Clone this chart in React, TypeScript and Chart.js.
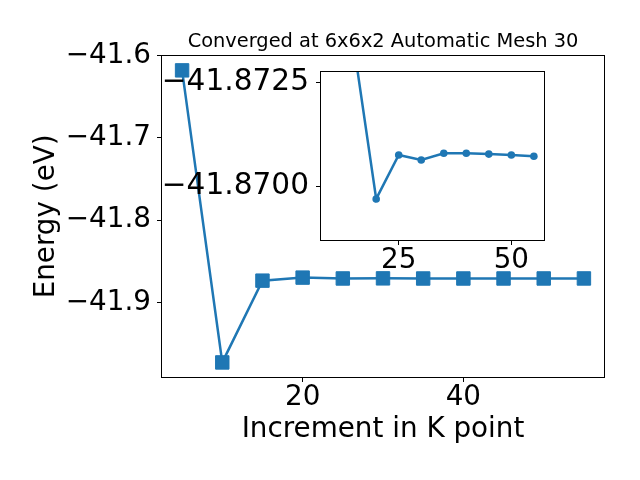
import React, { useEffect, useRef } from "react";
import { Chart, registerables } from "chart.js";

Chart.register(...registerables);

// ---- data ----
const kPoints = [5, 10, 15, 20, 25, 30, 35, 40, 45, 50, 55];
const energies = [
  -41.6183, -41.9726, -41.8734, -41.86971, -41.87076, -41.87064, -41.8708,
  -41.8708, -41.87078, -41.87076, -41.87073,
];
const insetKPoints = [10, 15, 20, 25, 30, 35, 40, 45, 50, 55];
const insetEnergies = [
  -41.9726, -41.8734, -41.86971, -41.87076, -41.87064, -41.8708, -41.8708,
  -41.87078, -41.87076, -41.87073,
];
const mainXTicks = [20, 40];
const mainYTicks = [-41.9, -41.8, -41.7, -41.6];
const insetXTicks = [25, 50];
const insetYTicks = [-41.8725, -41.87];
const titleText = "Converged at 6x6x2 Automatic Mesh 30";
const xLabel = "Increment in K point";
const yLabel = "Energy (eV)";

const BLUE = "#1f77b4";
const FONT = "DejaVu Sans";

const minus = (s: string) => s.replace("-", "\u2212");

function framePlugin(fillWhite: boolean) {
  return {
    id: "frame",
    beforeDraw(chart: any) {
      if (!fillWhite) return;
      const { ctx, chartArea: a } = chart;
      ctx.save();
      ctx.fillStyle = "#ffffff";
      ctx.fillRect(a.left, a.top, a.right - a.left, a.bottom - a.top);
      ctx.restore();
    },
    afterDraw(chart: any) {
      const { ctx, chartArea: a } = chart;
      ctx.save();
      ctx.strokeStyle = "#000000";
      ctx.lineWidth = 1;
      ctx.strokeRect(
        Math.round(a.left) - 0.5,
        Math.round(a.top) - 0.5,
        Math.round(a.right) - Math.round(a.left) + 1,
        Math.round(a.bottom) - Math.round(a.top) + 1
      );
      ctx.restore();
    },
  };
}

const tickGrid = {
  drawOnChartArea: false,
  drawTicks: true,
  tickLength: 5,
  color: "#000000",
  lineWidth: 1,
};

export default function App() {
  const mainRef = useRef<HTMLCanvasElement>(null);
  const insetRef = useRef<HTMLCanvasElement>(null);

  useEffect(() => {
    const tickFont = { family: FONT, size: 27.8, lineHeight: 1.1 };
    const insetYFont = { family: FONT, size: 29.6, lineHeight: 1.1 };
    const main = new Chart(mainRef.current!, {
      type: "line",
      data: {
        datasets: [
          {
            data: kPoints.map((x, i) => ({ x, y: energies[i] })),
            borderColor: BLUE,
            backgroundColor: BLUE,
            borderWidth: 2.5,
            pointStyle: "rect",
            pointRadius: 9.5,
            pointBorderWidth: 1,
            pointBackgroundColor: BLUE,
            pointBorderColor: BLUE,
            tension: 0,
          },
        ],
      },
      options: {
        responsive: false,
        animation: false,
        devicePixelRatio: 1,
        layout: { padding: { top: 0, left: 0, right: 36, bottom: 0 } },
        plugins: {
          legend: { display: false },
          tooltip: { enabled: false },
          title: {
            display: true,
            text: titleText,
            fullSize: false,
            color: "#000000",
            font: { family: FONT, size: 19.4, weight: "normal", lineHeight: 1.2 },
            padding: { top: 30, bottom: 2.5 },
          },
        },
        scales: {
          x: {
            type: "linear",
            min: 2.5,
            max: 57.5,
            grid: tickGrid,
            border: { display: false },
            afterBuildTicks: (s: any) => {
              s.ticks = mainXTicks.map((v) => ({ value: v }));
            },
            afterFit: (s: any) => {
              s.height = 103;
            },
            ticks: {
              color: "#000000",
              font: tickFont,
              padding: 0.5,
              autoSkip: false,
              maxRotation: 0,
              callback: (v: any) => String(v),
            },
            title: {
              display: true,
              text: xLabel,
              color: "#000000",
              font: { family: FONT, size: 27.8, lineHeight: 1.2 },
              padding: { top: 0, bottom: 34 },
            },
          },
          y: {
            type: "linear",
            min: -41.9903,
            max: -41.6006,
            grid: tickGrid,
            border: { display: false },
            afterBuildTicks: (s: any) => {
              s.ticks = mainYTicks.map((v) => ({ value: v }));
            },
            afterFit: (s: any) => {
              s.width = 162;
            },
            ticks: {
              color: "#000000",
              font: tickFont,
              padding: 6,
              autoSkip: false,
              callback: (v: any) => minus(Number(v).toFixed(1)),
            },
            title: {
              display: true,
              text: yLabel,
              color: "#000000",
              font: { family: FONT, size: 27.8, lineHeight: 1.2 },
              padding: { top: 30, bottom: 0 },
            },
          },
        },
      },
      plugins: [framePlugin(false)],
    } as any);

    const inset = new Chart(insetRef.current!, {
      type: "line",
      data: {
        datasets: [
          {
            data: insetKPoints.map((x, i) => ({ x, y: insetEnergies[i] })),
            borderColor: BLUE,
            backgroundColor: BLUE,
            borderWidth: 2.5,
            pointStyle: "circle",
            pointRadius: 3.8,
            pointBorderWidth: 0,
            pointBackgroundColor: BLUE,
            tension: 0,
            clip: 0,
          },
        ],
      },
      options: {
        responsive: false,
        animation: false,
        devicePixelRatio: 1,
        layout: { padding: { top: 72, left: 0, right: 96, bottom: 0 } },
        plugins: {
          legend: { display: false },
          tooltip: { enabled: false },
          title: { display: false },
        },
        scales: {
          x: {
            type: "linear",
            min: 7.75,
            max: 57.25,
            grid: tickGrid,
            border: { display: false },
            afterBuildTicks: (s: any) => {
              s.ticks = insetXTicks.map((v) => ({ value: v }));
            },
            afterFit: (s: any) => {
              s.height = 240;
            },
            ticks: {
              color: "#000000",
              font: tickFont,
              padding: 0,
              autoSkip: false,
              maxRotation: 0,
              callback: (v: any) => String(v),
            },
          },
          y: {
            type: "linear",
            reverse: true,
            min: -41.87274,
            max: -41.86873,
            grid: tickGrid,
            border: { display: false },
            afterBuildTicks: (s: any) => {
              s.ticks = insetYTicks.map((v) => ({ value: v }));
            },
            afterFit: (s: any) => {
              s.width = 321;
            },
            ticks: {
              color: "#000000",
              font: insetYFont,
              padding: 7,
              autoSkip: false,
              callback: (v: any) => minus(Number(v).toFixed(4)),
            },
          },
        },
      },
      plugins: [framePlugin(true)],
    } as any);

    return () => {
      main.destroy();
      inset.destroy();
    };
  }, []);

  return (
    <div
      style={{
        position: "fixed",
        left: 0,
        top: 0,
        width: 640,
        height: 480,
        background: "#ffffff",
      }}
    >
      <canvas
        ref={mainRef}
        width={640}
        height={480}
        style={{ position: "absolute", left: 0, top: 0, width: 640, height: 480 }}
      />
      <canvas
        ref={insetRef}
        width={640}
        height={480}
        style={{ position: "absolute", left: 0, top: 0, width: 640, height: 480 }}
      />
    </div>
  );
}
